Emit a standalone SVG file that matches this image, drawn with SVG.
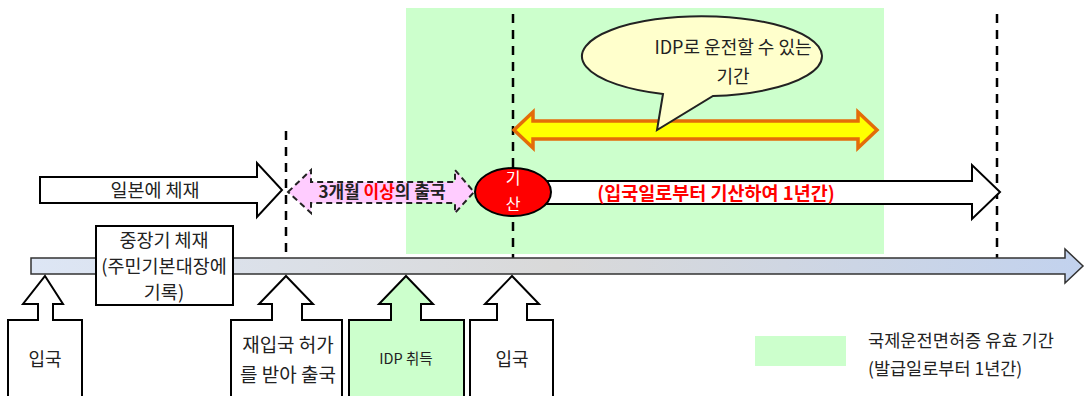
<svg xmlns="http://www.w3.org/2000/svg" width="1091" height="396" viewBox="0 0 1091 396">
<defs>
<linearGradient id="barGrad" x1="0" y1="0" x2="1" y2="0">
<stop offset="0" stop-color="#dde6f5"/>
<stop offset="0.5" stop-color="#d9d9d9"/>
<stop offset="1" stop-color="#c2d2ee"/>
</linearGradient>
<style>
text{font-family:"Noto Sans CJK KR","Noto Sans",sans-serif;fill:#222;font-size:18.5px;text-anchor:middle;}
.blk{fill:#fff;stroke:#000;stroke-width:2;}
.dash{stroke:#000;stroke-width:2.5;stroke-dasharray:9 7;fill:none;}
.bold{font-weight:bold;}
.red{fill:#ff0000;}
</style>
</defs>
<rect x="0" y="0" width="1091" height="396" fill="#fff"/>
<rect id="valid-period" x="406" y="8" width="478" height="246" fill="#ccffcc"/>
<g id="connectors">
<line class="dash" x1="286" y1="131" x2="286" y2="258"/>
<line class="dash" x1="513" y1="14" x2="513" y2="258"/>
<line class="dash" x1="997" y1="14" x2="997" y2="258"/>
</g>
<g id="timeline">
<path d="M31,258 H1065 V249 L1083,266 L1065,283 V274 H31 Z" fill="url(#barGrad)" stroke="#333" stroke-width="1.5"/>
</g>
<g id="stay-japan">
<path class="blk" d="M40,177 H257 V163 L282,190 L257,217 V203 H40 Z"/>
<text x="155" y="197">일본에 체재</text>
</g>
<g id="long-stay">
<rect class="blk" x="96" y="226" width="137" height="79"/>
<text x="164" y="247">중장기 체재</text>
<text x="164" y="273">(주민기본대장에</text>
<text x="164" y="299">기록)</text>
</g>
<g id="leave-3months">
<path d="M288,192 L311,170 V182 H455 V170 L474,192 L455,213 V203 H311 V213 Z" fill="#ffccff" stroke="#222" stroke-width="2" stroke-dasharray="6 4"/>
<text class="bold" x="382" y="198" style="font-size:17px">3개월 <tspan class="red">이상</tspan>의 출국</text>
</g>
<g id="one-year">
<path class="blk" d="M520,181 H972 V165 L1000,192 L972,219 V204 H520 Z"/>
<text class="bold red" x="716" y="200">(입국일로부터 기산하여 1년간)</text>
</g>
<g id="start">
<ellipse cx="513" cy="192" rx="38" ry="24" fill="#ff0000" stroke="#000" stroke-width="2"/>
<text x="513" y="184" style="fill:#fff;font-size:16px">기</text>
<text x="513" y="210" style="fill:#fff;font-size:16px">산</text>
</g>
<g id="idp-period">
<path d="M514,130 L533,112 V121 H858 V112 L877,130 L858,148 V139 H533 V148 Z" fill="#ffff00" stroke="#e36c09" stroke-width="3.5" stroke-linejoin="miter"/>
</g>
<g id="callout">
<path d="M663,94 A120,40 0 1 1 713,96 L657,130 Z" fill="#ffffcc" stroke="#222" stroke-width="2"/>
<text x="733" y="54" style="font-size:18px">IDP로 운전할 수 있는</text>
<text x="733" y="83" style="font-size:18px">기간</text>
</g>
<g id="entry1">
<path class="blk" d="M45,276 L63,304 H53 V320 H82 V400 H8 V320 H38 V304 H23 Z"/>
<text x="45" y="366" style="font-size:18px">입국</text>
</g>
<g id="reentry-leave">
<path class="blk" d="M286,276 L313,304 H302 V320 H342 V400 H231 V320 H272 V304 H259 Z"/>
<text x="288" y="352" style="font-size:19px">재입국 허가</text>
<text x="288" y="382" style="font-size:19px">를 받아 출국</text>
</g>
<g id="idp-get">
<path d="M406,276 L433,304 H421 V320 H464 V400 H349 V320 H391 V304 H379 Z" fill="#ccffcc" stroke="#000" stroke-width="2"/>
<text x="406" y="364" style="font-size:14.5px">IDP 취득</text>
</g>
<g id="entry2">
<path class="blk" d="M512,276 L539,304 H527 V320 H553 V400 H470 V320 H497 V304 H485 Z"/>
<text x="512" y="366" style="font-size:18px">입국</text>
</g>
<g id="legend">
<rect x="755" y="336" width="91" height="30" fill="#ccffcc"/>
<text x="868" y="347" style="text-anchor:start;font-size:17.6px">국제운전면허증 유효 기간</text>
<text x="868" y="375" style="text-anchor:start;font-size:17.5px">(발급일로부터 1년간)</text>
</g>
</svg>
